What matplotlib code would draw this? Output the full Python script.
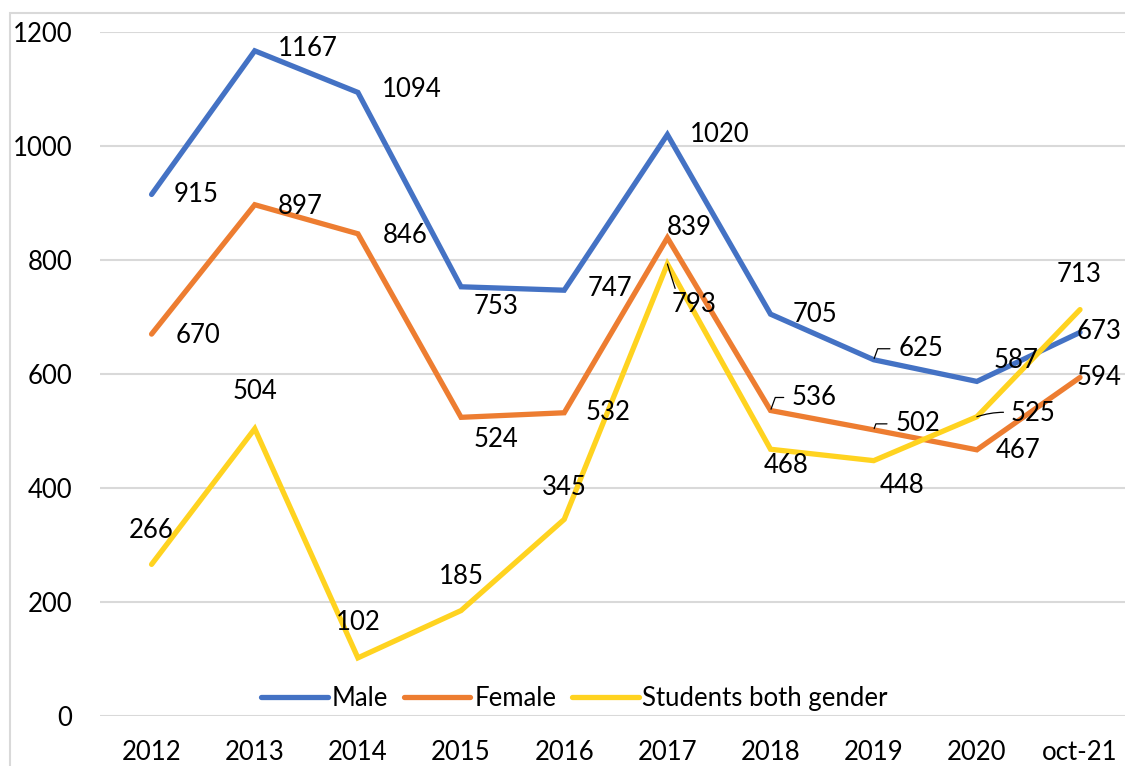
import matplotlib.pyplot as plt
from matplotlib.patches import Rectangle

years = ['2012', '2013', '2014', '2015', '2016', '2017', '2018', '2019', '2020', 'oct-21']
male = [915, 1167, 1094, 753, 747, 1020, 705, 625, 587, 673]
female = [670, 897, 846, 524, 532, 839, 536, 502, 467, 594]
students = [266, 504, 102, 185, 345, 793, 468, 448, 525, 713]

# label offsets in pixels (dx, dy) relative to each point
male_off = [(45, 0), (53, 2), (54, 3), (35, -20), (46, 2), (52, 0), (44, 0), (47, 11), (39, 21), (19, 1)]
female_off = [(46, -1), (45, -2), (47, -2), (35, -22), (44, 0), (22, 10), (44, 13), (44, 6), (41, -1), (19, 0)]
stud_off = [(0, 34), (0, 37), (0, 35), (0, 34), (0, 32), (27, -41), (16, -16), (28, -25), (56, 3), (-1, 35)]
leaders = {('m', 7), ('f', 6), ('f', 7), ('s', 5), ('s', 8)}

plt.rcParams['font.family'] = ['Lato', 'DejaVu Sans']
fs = 18.5

fig = plt.figure(figsize=(11.25, 7.66), dpi=100)
ax = fig.add_axes([100 / 1125, 50 / 766, 1031.6 / 1125, 684 / 766])

x = list(range(len(years)))
series = [('Male', male, '#4472C4', male_off, 'm'),
          ('Female', female, '#ED7D31', female_off, 'f'),
          ('Students both gender', students, '#FFD320', stud_off, 's')]

for name, vals, col, offs, key in series:
    ax.plot(x, vals, color=col, lw=3.8, label=name, solid_capstyle='round', solid_joinstyle='miter')

for name, vals, col, offs, key in series:
    for i, v in enumerate(vals):
        dx, dy = offs[i]
        kw = {}
        if (key, i) in leaders:
            if key == 's' and i == 5:
                kw['arrowprops'] = dict(arrowstyle='-', color='black', lw=0.9,
                                        shrinkA=1, shrinkB=0, relpos=(0.1, 1.0))
            elif key == 's' and i == 8:
                kw['arrowprops'] = dict(arrowstyle='-', color='black', lw=0.9,
                                        shrinkA=3, shrinkB=0, relpos=(0, 0.55),
                                        connectionstyle='arc3,rad=0.1')
            else:
                kw['arrowprops'] = dict(arrowstyle='-', color='black', lw=0.9,
                                        shrinkA=4, shrinkB=1, relpos=(0, 0.5),
                                        connectionstyle='angle,angleA=0,angleB=70,rad=0')
        ax.annotate(str(v), (i, v), xytext=(dx, dy), textcoords='offset pixels',
                    ha='center', va='center', fontsize=fs, color='black', **kw)

ax.set_xlim(-0.5, len(years) - 0.5)
ax.set_ylim(0, 1200)
ax.set_yticks(range(0, 1201, 200))
ax.set_xticks(x)
ax.set_xticklabels(years)
ax.tick_params(axis='both', length=0, labelsize=fs)
ax.tick_params(axis='y', pad=20)
ax.tick_params(axis='x', pad=17)
ax.grid(axis='y', color='#D9D9D9', lw=1.5)
ax.set_axisbelow(True)
for s in ax.spines.values():
    s.set_visible(False)

ax.legend(loc='center', bbox_to_anchor=(0.46, 0.026), ncol=3, frameon=False,
          fontsize=fs, handlelength=2.6, handletextpad=0.15, columnspacing=0.6)

fig.patches.append(Rectangle((10 / 1125, -0.1), 2, (766 - 13) / 766 + 0.1,
                             transform=fig.transFigure, fill=False,
                             edgecolor='#D9D9D9', lw=1.5))

fig.savefig('out.png', dpi=100)
